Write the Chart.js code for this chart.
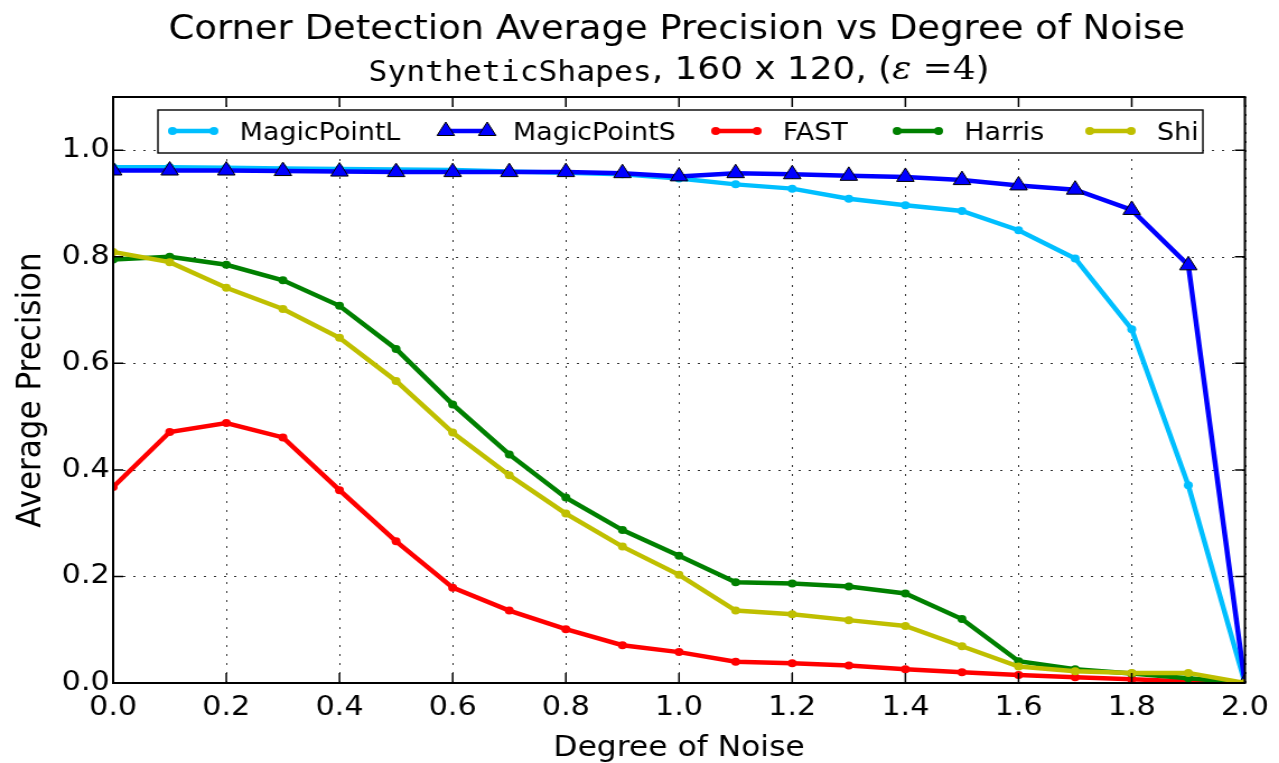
<!DOCTYPE html>
<html>
<head>
<meta charset="utf-8">
<script src="https://cdn.jsdelivr.net/npm/chart.js@4.4.1/dist/chart.umd.min.js"></script>
<style>
  html, body { margin: 0; padding: 0; background: #fff; overflow: hidden; }
  /* the reference figure is stretched a little wider than tall */
  #wrap { width: 1142px; height: 763px; transform: scaleX(1.12); transform-origin: 0 0; }
</style>
</head>
<body>
<div id="wrap"><canvas id="myChart" width="1142" height="763"></canvas></div>
<script>
// noise levels on the x axis
const noise = [0.0, 0.1, 0.2, 0.3, 0.4, 0.5, 0.6, 0.7, 0.8, 0.9, 1.0,
               1.1, 1.2, 1.3, 1.4, 1.5, 1.6, 1.7, 1.8, 1.9, 2.0];

const magicPointL = [0.968, 0.968, 0.967, 0.966, 0.965, 0.964, 0.963, 0.960, 0.958, 0.955, 0.947,
                     0.936, 0.928, 0.909, 0.897, 0.886, 0.850, 0.797, 0.664, 0.371, 0.0];
const magicPointS = [0.962, 0.962, 0.962, 0.961, 0.960, 0.959, 0.959, 0.959, 0.959, 0.957, 0.951,
                     0.957, 0.955, 0.952, 0.950, 0.944, 0.934, 0.926, 0.888, 0.784, 0.0];
const fast        = [0.368, 0.471, 0.488, 0.461, 0.362, 0.266, 0.179, 0.136, 0.101, 0.071, 0.058,
                     0.040, 0.037, 0.033, 0.026, 0.020, 0.015, 0.011, 0.007, 0.003, 0.0];
const harris      = [0.795, 0.800, 0.785, 0.756, 0.708, 0.627, 0.523, 0.429, 0.348, 0.287, 0.239,
                     0.189, 0.187, 0.181, 0.168, 0.120, 0.041, 0.026, 0.018, 0.009, 0.0];
const shi         = [0.809, 0.790, 0.742, 0.702, 0.648, 0.567, 0.470, 0.390, 0.318, 0.256, 0.203,
                     0.136, 0.129, 0.118, 0.107, 0.069, 0.031, 0.022, 0.019, 0.019, 0.0];

const seriesNames = ['MagicPointL', 'MagicPointS', 'FAST', 'Harris', 'Shi'];
const xTicks = [0.0, 0.2, 0.4, 0.6, 0.8, 1.0, 1.2, 1.4, 1.6, 1.8, 2.0];
const yTicks = [0.0, 0.2, 0.4, 0.6, 0.8, 1.0];

const titleText = 'Corner Detection Average Precision vs Degree of Noise';

Chart.defaults.font.family = '"DejaVu Sans", sans-serif';
Chart.defaults.color = '#000';

function pairs(vals) {
  return vals.map((v, i) => ({x: noise[i], y: v}));
}

function triangle(ctx, x, y, r) {
  ctx.beginPath();
  ctx.moveTo(x, y - r);
  ctx.lineTo(x + r * Math.sqrt(3) / 2, y + r / 2);
  ctx.lineTo(x - r * Math.sqrt(3) / 2, y + r / 2);
  ctx.closePath();
  ctx.fill();
  ctx.stroke();
}

// dotted grid, frame and inward ticks like the old matplotlib look
const axesDeco = {
  id: 'axesDeco',
  beforeDatasetsDraw(chart) {
    const {ctx, chartArea: a, scales: {x, y}} = chart;
    ctx.save();
    ctx.strokeStyle = 'rgba(0,0,0,0.8)';
    ctx.lineWidth = 1;
    ctx.setLineDash([2, 7]);
    xTicks.forEach(v => {
      const px = Math.round(x.getPixelForValue(v)) + 0.5;
      ctx.beginPath(); ctx.moveTo(px, a.bottom); ctx.lineTo(px, a.top); ctx.stroke();
    });
    yTicks.forEach(v => {
      const py = Math.round(y.getPixelForValue(v)) + 0.5;
      ctx.beginPath(); ctx.moveTo(a.left, py); ctx.lineTo(a.right, py); ctx.stroke();
    });
    ctx.restore();
  },
  afterDatasetsDraw(chart) {
    const {ctx, chartArea: a, scales: {x, y}} = chart;
    ctx.save();
    ctx.strokeStyle = '#000';
    ctx.lineWidth = 1.5;
    xTicks.forEach(v => {
      const px = x.getPixelForValue(v);
      ctx.beginPath();
      ctx.moveTo(px, a.bottom); ctx.lineTo(px, a.bottom - 10);
      ctx.moveTo(px, a.top); ctx.lineTo(px, a.top + 10);
      ctx.stroke();
    });
    yTicks.forEach(v => {
      const py = y.getPixelForValue(v);
      ctx.beginPath();
      ctx.moveTo(a.left, py); ctx.lineTo(a.left + 9, py);
      ctx.moveTo(a.right, py); ctx.lineTo(a.right - 9, py);
      ctx.stroke();
    });
    ctx.lineWidth = 2;
    ctx.strokeRect(a.left, a.top, a.right - a.left, a.bottom - a.top);
    ctx.restore();
  }
};

// title, subtitle and the boxed legend inside the plot
const textDeco = {
  id: 'textDeco',
  afterDraw(chart) {
    const {ctx, chartArea: a} = chart;
    const cx = (a.left + a.right) / 2;
    ctx.save();
    ctx.fillStyle = '#000';
    ctx.textBaseline = 'alphabetic';
    ctx.textAlign = 'center';
    ctx.font = '33px "DejaVu Sans"';
    ctx.fillText(titleText, cx - 2, 39);

    const parts = [
      {t: 'SyntheticShapes', f: '28px "DejaVu Sans Mono"', dy: 2},
      {t: ', 160 x 120, (', f: '32px "DejaVu Sans"', dy: 0},
      {t: '\u03b5', f: 'italic 32px "DejaVu Serif"', dy: 0},
      {t: ' =4', f: '32px "DejaVu Serif"', dy: 0},
      {t: ')', f: '32px "DejaVu Sans"', dy: 0}
    ];
    let total = 0;
    parts.forEach(p => { ctx.font = p.f; p.w = ctx.measureText(p.t).width; total += p.w; });
    let px = cx - total / 2;
    ctx.textAlign = 'left';
    parts.forEach(p => { ctx.font = p.f; ctx.fillText(p.t, px, 79 + p.dy); px += p.w; });

    // legend
    ctx.fillStyle = '#fff';
    ctx.fillRect(141, 110, 933, 43);
    ctx.strokeStyle = '#000';
    ctx.lineWidth = 1.4;
    ctx.strokeRect(141, 110, 933, 43);
    const handleX = [154, 398, 639, 801, 973];
    const ly = 131;
    chart.data.datasets.forEach((ds, i) => {
      const x0 = handleX[i], x1 = x0 + 37;
      ctx.strokeStyle = ds.borderColor;
      ctx.lineWidth = 4.5;
      ctx.beginPath(); ctx.moveTo(x0, ly); ctx.lineTo(x1, ly); ctx.stroke();
      if (ds.pointStyle === 'triangle') {
        ctx.fillStyle = ds.pointBackgroundColor;
        ctx.strokeStyle = '#000';
        ctx.lineWidth = 1;
        triangle(ctx, x0, ly, 9);
        triangle(ctx, x1, ly, 9);
      } else {
        ctx.fillStyle = ds.borderColor;
        [x0, x1].forEach(xx => { ctx.beginPath(); ctx.arc(xx, ly, 4, 0, Math.PI * 2); ctx.fill(); });
      }
      ctx.fillStyle = '#000';
      ctx.font = '24px "DejaVu Sans"';
      ctx.fillText(ds.label, x1 + 23, 140);
    });
    ctx.restore();
  }
};

const colors = ['#00bfff', '#0000ff', '#ff0000', '#008000', '#bfbf00'];
const values = [magicPointL, magicPointS, fast, harris, shi];

const datasets = values.map((vals, i) => ({
  label: seriesNames[i],
  data: pairs(vals),
  borderColor: colors[i],
  backgroundColor: colors[i],
  borderWidth: 4.5,
  pointStyle: i === 1 ? 'triangle' : 'circle',
  pointRadius: i === 1 ? 9 : 4,
  pointBackgroundColor: colors[i],
  pointBorderColor: i === 1 ? '#000' : colors[i],
  pointBorderWidth: i === 1 ? 1 : 0,
  tension: 0,
  clip: 0,
  order: 5 - i
}));

const ctx = document.getElementById('myChart').getContext('2d');
const myChart = new Chart(ctx, {
  type: 'line',
  data: {datasets: datasets},
  options: {
    responsive: false,
    animation: false,
    events: [],
    layout: {padding: {top: 97, right: 27, bottom: 0, left: 0}},
    plugins: {legend: {display: false}, title: {display: false}, tooltip: {enabled: false}},
    scales: {
      x: {
        type: 'linear', min: 0, max: 2,
        afterFit(scale) { scale.height = 80; },
        afterBuildTicks(scale) { scale.ticks = xTicks.map(v => ({value: v})); },
        grid: {display: false, drawTicks: false},
        border: {display: false},
        ticks: {padding: 9, autoSkip: false, maxRotation: 0, font: {size: 27},
                callback: v => Number(v).toFixed(1)},
        title: {display: true, text: 'Degree of Noise', font: {size: 28, lineHeight: 1},
                padding: {top: 0, bottom: 0}}
      },
      y: {
        type: 'linear', min: 0, max: 1.1,
        afterFit(scale) { scale.width = 101; },
        afterBuildTicks(scale) { scale.ticks = yTicks.map(v => ({value: v})); },
        grid: {display: false, drawTicks: false},
        border: {display: false},
        ticks: {padding: 3, autoSkip: false, font: {size: 27},
                callback: v => Number(v).toFixed(1)},
        title: {display: true, text: 'Average Precision', font: {size: 31, lineHeight: 1},
                padding: {top: 12, bottom: 0}}
      }
    }
  },
  plugins: [axesDeco, textDeco]
});
</script>
</body>
</html>
